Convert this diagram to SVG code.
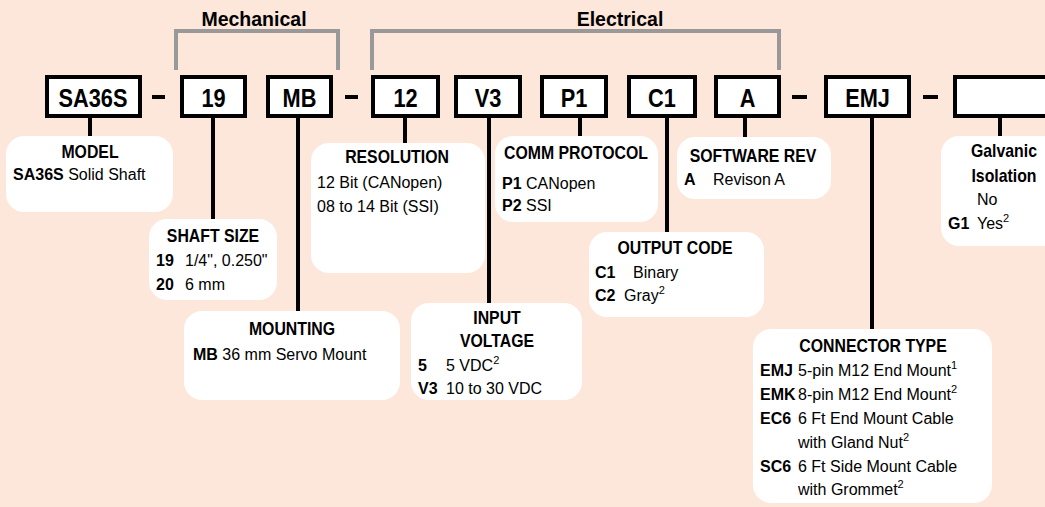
<svg xmlns="http://www.w3.org/2000/svg" width="1045" height="507" viewBox="0 0 1045 507">
<style>
.bg{fill:#FDE6DA}
.code{fill:#fff;stroke:#000;stroke-width:4}
.desc{fill:#fff;stroke:none}
.conn{stroke:#000;stroke-width:4;fill:none}
.brk{stroke:#999;stroke-width:4;fill:none}
.lbl{font-family:"Liberation Sans",Arial,sans-serif;font-weight:bold;font-size:25px;text-anchor:middle;fill:#000}
.grp{font-family:"Liberation Sans",Arial,sans-serif;font-weight:bold;font-size:19.5px;text-anchor:middle;fill:#000}
.ttl{font-family:"Liberation Sans",Arial,sans-serif;font-weight:bold;font-size:18px;text-anchor:middle;fill:#000}
.txt{font-family:"Liberation Sans",Arial,sans-serif;font-size:16px;fill:#000}
.b{font-weight:bold}
.sup{font-size:11px}
</style>
<rect class="bg" x="0" y="0" width="1045" height="507"/>

<g id="brackets">
<polyline class="brk" points="176,70 176,31 338,31 338,70"/>
<text class="grp" x="254" y="26">Mechanical</text>
<polyline class="brk" points="372,70 372,31 779,31 779,70"/>
<text class="grp" x="620" y="26">Electrical</text>
</g>

<g id="dashes">
<line class="conn" x1="152" y1="97" x2="165" y2="97"/>
<line class="conn" x1="345" y1="97" x2="358" y2="97"/>
<line class="conn" x1="792" y1="97" x2="807" y2="97"/>
<line class="conn" x1="923" y1="97" x2="938" y2="97"/>
</g>

<g id="connectors">
<line class="conn" x1="90" y1="116" x2="90" y2="137"/>
<line class="conn" x1="213" y1="116" x2="213" y2="220"/>
<line class="conn" x1="298" y1="116" x2="298" y2="312"/>
<line class="conn" x1="405" y1="116" x2="405" y2="144"/>
<line class="conn" x1="489" y1="116" x2="489" y2="304"/>
<line class="conn" x1="580" y1="116" x2="580" y2="137"/>
<line class="conn" x1="667" y1="116" x2="667" y2="233"/>
<line class="conn" x1="745" y1="116" x2="745" y2="138"/>
<line class="conn" x1="872" y1="116" x2="872" y2="330"/>
<line class="conn" x1="1000" y1="116" x2="1000" y2="137"/>
</g>

<g id="code-SA36S"><rect class="code" x="47" y="77" width="93" height="39"/><text class="lbl" transform="translate(93,107) scale(0.87,1)">SA36S</text></g>
<g id="code-19"><rect class="code" x="182" y="77" width="63" height="39"/><text class="lbl" transform="translate(213.5,107) scale(0.87,1)">19</text></g>
<g id="code-MB"><rect class="code" x="268" y="77" width="63" height="39"/><text class="lbl" transform="translate(299.5,107) scale(0.87,1)">MB</text></g>
<g id="code-12"><rect class="code" x="373" y="77" width="65" height="39"/><text class="lbl" transform="translate(405.5,107) scale(0.87,1)">12</text></g>
<g id="code-V3"><rect class="code" x="456" y="77" width="64" height="39"/><text class="lbl" transform="translate(488,107) scale(0.87,1)">V3</text></g>
<g id="code-P1"><rect class="code" x="542" y="77" width="64" height="39"/><text class="lbl" transform="translate(574,107) scale(0.87,1)">P1</text></g>
<g id="code-C1"><rect class="code" x="629" y="77" width="66" height="39"/><text class="lbl" transform="translate(662,107) scale(0.87,1)">C1</text></g>
<g id="code-A"><rect class="code" x="716" y="77" width="63" height="39"/><text class="lbl" transform="translate(747.5,107) scale(0.87,1)">A</text></g>
<g id="code-EMJ"><rect class="code" x="826" y="77" width="83" height="39"/><text class="lbl" transform="translate(867.5,107) scale(0.87,1)">EMJ</text></g>
<g id="code-blank"><rect class="code" x="955" y="77" width="100" height="39"/></g>

<g id="desc-model">
<rect class="desc" x="6" y="136" width="167" height="76" rx="18"/>
<text class="ttl" transform="translate(90,158) scale(0.88,1)">MODEL</text>
<text class="txt" x="13" y="180"><tspan class="b">SA36S</tspan> Solid Shaft</text>
</g>

<g id="desc-shaft">
<rect class="desc" x="149" y="219" width="128" height="81" rx="18"/>
<text class="ttl" transform="translate(213,242) scale(0.88,1)">SHAFT SIZE</text>
<text class="txt b" x="156" y="266">19</text><text class="txt" x="185" y="266">1/4", 0.250"</text>
<text class="txt b" x="156" y="290">20</text><text class="txt" x="185" y="290">6 mm</text>
</g>

<g id="desc-mounting">
<rect class="desc" x="184" y="311" width="216" height="89" rx="18"/>
<text class="ttl" transform="translate(292,335) scale(0.88,1)">MOUNTING</text>
<text class="txt" x="193" y="360"><tspan class="b">MB</tspan> 36 mm Servo Mount</text>
</g>

<g id="desc-resolution">
<rect class="desc" x="311" y="143" width="174" height="130" rx="18"/>
<text class="ttl" transform="translate(397,163) scale(0.88,1)">RESOLUTION</text>
<text class="txt" x="317" y="188">12 Bit (CANopen)</text>
<text class="txt" x="317" y="212">08 to 14 Bit (SSI)</text>
</g>

<g id="desc-comm">
<rect class="desc" x="495" y="136" width="163" height="86" rx="18"/>
<text class="ttl" transform="translate(576,159) scale(0.88,1)">COMM PROTOCOL</text>
<text class="txt" x="502" y="189"><tspan class="b">P1</tspan> CANopen</text>
<text class="txt" x="502" y="211"><tspan class="b">P2</tspan> SSI</text>
</g>

<g id="desc-output">
<rect class="desc" x="589" y="232" width="175" height="85" rx="18"/>
<text class="ttl" transform="translate(675,254) scale(0.88,1)">OUTPUT CODE</text>
<text class="txt b" x="595" y="278">C1</text><text class="txt" x="633" y="278">Binary</text>
<text class="txt b" x="595" y="301">C2</text><text class="txt" x="624" y="301">Gray<tspan class="sup" dy="-7">2</tspan></text>
</g>

<g id="desc-software">
<rect class="desc" x="677" y="137" width="154" height="62" rx="18"/>
<text class="ttl" transform="translate(753,162) scale(0.88,1)">SOFTWARE REV</text>
<text class="txt b" x="684" y="185">A</text><text class="txt" x="713" y="185">Revison A</text>
</g>

<g id="desc-galvanic">
<rect class="desc" x="941" y="136" width="130" height="110" rx="18"/>
<text class="ttl" transform="translate(1004,157) scale(0.88,1)">Galvanic</text>
<text class="ttl" transform="translate(1004,182) scale(0.88,1)">Isolation</text>
<text class="txt" x="977" y="205">No</text>
<text class="txt b" x="948" y="229">G1</text><text class="txt" x="977" y="229">Yes<tspan class="sup" dy="-7">2</tspan></text>
</g>

<g id="desc-voltage">
<rect class="desc" x="411" y="303" width="171" height="97" rx="18"/>
<text class="ttl" transform="translate(497,324) scale(0.88,1)">INPUT</text>
<text class="ttl" transform="translate(497,347) scale(0.88,1)">VOLTAGE</text>
<text class="txt b" x="418" y="371">5</text><text class="txt" x="446" y="371">5 VDC<tspan class="sup" dy="-7">2</tspan></text>
<text class="txt b" x="418" y="394">V3</text><text class="txt" x="446" y="394">10 to 30 VDC</text>
</g>

<g id="desc-connector">
<rect class="desc" x="753" y="329" width="239" height="174" rx="18"/>
<text class="ttl" transform="translate(873,352) scale(0.88,1)">CONNECTOR TYPE</text>
<text class="txt b" x="760" y="376">EMJ</text><text class="txt" x="798" y="376">5-pin M12 End Mount<tspan class="sup" dy="-7">1</tspan></text>
<text class="txt b" x="760" y="400">EMK</text><text class="txt" x="798" y="400">8-pin M12 End Mount<tspan class="sup" dy="-7">2</tspan></text>
<text class="txt b" x="760" y="424">EC6</text><text class="txt" x="798" y="424">6 Ft End Mount Cable</text>
<text class="txt" x="798" y="448">with Gland Nut<tspan class="sup" dy="-7">2</tspan></text>
<text class="txt b" x="760" y="472">SC6</text><text class="txt" x="798" y="472">6 Ft Side Mount Cable</text>
<text class="txt" x="798" y="495">with Grommet<tspan class="sup" dy="-7">2</tspan></text>
</g>
</svg>
